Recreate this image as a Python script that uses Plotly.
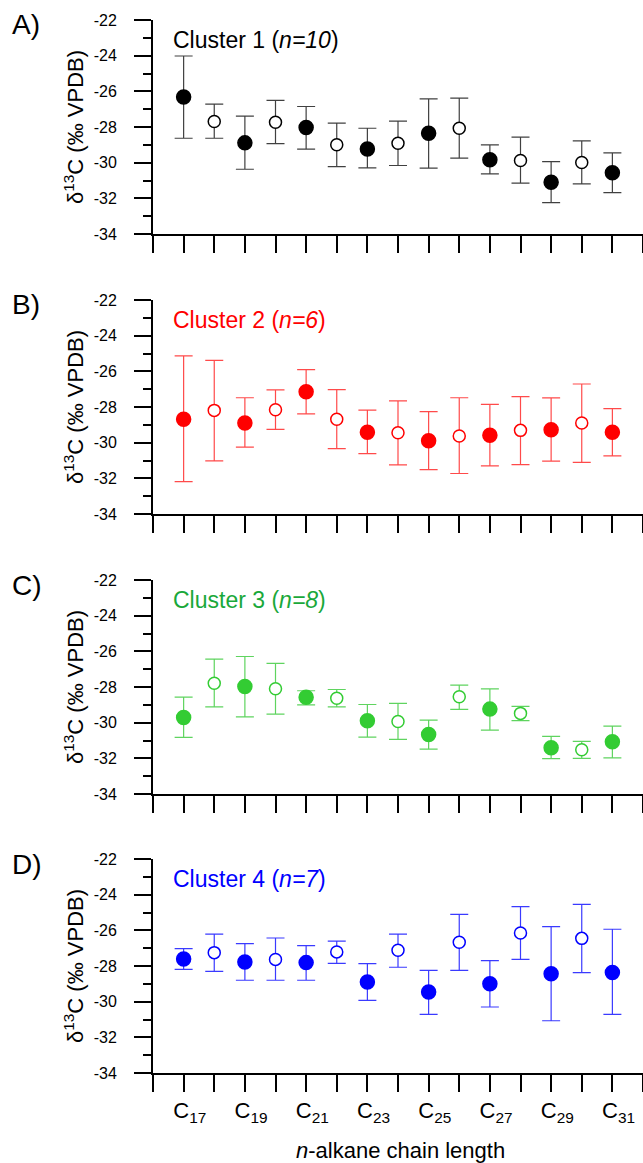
import plotly.graph_objects as go

chain = list(range(17, 32))
tick_vals_x = list(range(16, 33))
tick_text_x = ["\u00a0\u00a0C<sub>%d</sub>" % c if (c % 2 == 1 and 17 <= c <= 31) else " " for c in tick_vals_x]

y_major = [-34, -32, -30, -28, -26, -24, -22]
y_major_text = ["-34", "-32", "-30", "-28", "-26", "-24", "-22"]
y_minor = [-33, -31, -29, -27, -25, -23]

panel_letters = ["A)", "B)", "C)", "D)"]
cluster_names = ["Cluster 1 (<i>n=10</i>)", "Cluster 2 (<i>n=6</i>)",
                 "Cluster 3 (<i>n=8</i>)", "Cluster 4 (<i>n=7</i>)"]

c1_mean = [-26.32, -27.69, -28.89, -27.73, -28.03, -29.00, -29.23, -28.91, -28.35, -28.07, -29.84, -29.88, -31.10, -29.99, -30.57]
c1_upper = [-24.02, -26.72, -27.39, -26.51, -26.85, -27.78, -28.07, -27.67, -26.42, -26.38, -29.00, -28.57, -29.94, -28.78, -29.45]
c1_lower = [-28.63, -28.63, -30.37, -28.93, -29.24, -30.22, -30.29, -30.16, -30.31, -29.75, -30.63, -31.15, -32.24, -31.19, -31.68]

c2_mean = [-28.69, -28.19, -28.90, -28.15, -27.14, -28.69, -29.41, -29.44, -29.89, -29.63, -29.59, -29.31, -29.28, -28.90, -29.41]
c2_upper = [-25.13, -25.39, -27.48, -27.04, -25.90, -27.03, -28.17, -27.66, -28.26, -27.48, -27.85, -27.42, -27.49, -26.71, -28.09]
c2_lower = [-32.18, -31.02, -30.25, -29.26, -28.38, -30.33, -30.61, -31.24, -31.51, -31.73, -31.30, -31.23, -31.04, -31.11, -30.74]

c3_mean = [-29.71, -27.79, -27.97, -28.10, -28.57, -28.63, -29.89, -29.93, -30.66, -28.55, -29.24, -29.48, -31.41, -31.52, -31.07]
c3_upper = [-28.57, -26.44, -26.29, -26.68, -28.21, -28.14, -28.98, -28.92, -29.86, -27.90, -28.10, -29.09, -30.77, -31.05, -30.19]
c3_lower = [-30.83, -29.11, -29.67, -29.52, -29.00, -29.11, -30.81, -30.94, -31.48, -29.26, -30.42, -29.89, -32.02, -32.00, -31.97]

c4_mean = [-27.61, -27.25, -27.78, -27.63, -27.81, -27.21, -28.90, -27.12, -29.46, -26.67, -28.99, -26.15, -28.43, -26.45, -28.36]
c4_upper = [-27.03, -26.21, -26.75, -26.43, -26.86, -26.60, -27.87, -26.21, -28.24, -25.10, -27.70, -24.67, -25.79, -24.54, -25.94]
c4_lower = [-28.19, -28.30, -28.80, -28.80, -28.80, -27.85, -29.93, -28.07, -30.71, -28.24, -30.30, -27.63, -31.07, -28.37, -30.71]

means = [c1_mean, c2_mean, c3_mean, c4_mean]
uppers = [c1_upper, c2_upper, c3_upper, c4_upper]
lowers = [c1_lower, c2_lower, c3_lower, c4_lower]

marker_colors = ["#000000", "#ff0000", "#33cc33", "#0000ff"]
error_colors = ["#404040", "#ff4a4a", "#5fd45f", "#3a3aff"]
title_colors = ["#000000", "#ff0000", "#1aa83a", "#0000ff"]

FONT = "Liberation Sans, Arial, sans-serif"

# pixel geometry
W, H = 643, 1163
M_L, M_R, M_T, M_B = 153, 0, 20, 90
plot_h = H - M_T - M_B
bottom_px = H - M_B
panel_px = [(20, 234), (300, 514), (580, 794), (859, 1073)]


def py(p):
    return (bottom_px - p) / plot_h


def px(p):
    return (p - M_L) / (W - M_L - M_R)


fig = go.Figure()
annotations = []

for i in range(4):
    ax = "" if i == 0 else str(i + 1)
    xa, ya = "x" + ax, "y" + ax
    m = means[i]
    up = [u - v for u, v in zip(uppers[i], m)]
    dn = [v - l for v, l in zip(m, lowers[i])]
    fill = [marker_colors[i] if c % 2 == 1 else "#ffffff" for c in chain]
    sizes = [14 if c % 2 == 1 else 12 for c in chain]
    fig.add_trace(go.Scatter(
        x=chain, y=m, mode="markers", xaxis=xa, yaxis=ya, showlegend=False,
        marker=dict(symbol="circle", size=sizes, color=fill, opacity=1,
                    line=dict(color=marker_colors[i], width=1.5)),
        error_y=dict(type="data", symmetric=False, array=up, arrayminus=dn,
                     color=error_colors[i], thickness=1.2, width=9),
    ))
    top, bot = panel_px[i]
    dom = [py(bot), py(top)]
    fig.layout["xaxis" + ax] = dict(
        domain=[0, 1], range=[16, 32], anchor=ya,
        tickmode="array", tickvals=tick_vals_x, ticktext=tick_text_x,
        showticklabels=(i == 3), ticks="outside", ticklen=17, tickwidth=2,
        tickcolor="black", showline=True, linewidth=2, linecolor="black",
        showgrid=False, zeroline=False,
        tickfont=dict(family=FONT, size=22, color="black"),
        automargin=False,
    )
    fig.layout["yaxis" + ax] = dict(
        domain=dom, range=[-34, -22], anchor=xa,
        tickmode="array", tickvals=y_major, ticktext=y_major_text,
        ticks="outside", ticklen=17, tickwidth=2, tickcolor="black",
        minor=dict(tickmode="array", tickvals=y_minor, ticks="outside",
                   ticklen=8, tickwidth=2, tickcolor="black"),
        showline=True, linewidth=2, linecolor="black",
        showgrid=False, zeroline=False,
        tickfont=dict(family=FONT, size=16, color="black"),
        ticklabelstandoff=14, automargin=False,
    )
    # y axis title
    annotations.append(dict(
        xref="paper", yref="paper", x=px(74), y=py((top + bot) / 2),
        text="δ<sup>13</sup>C (‰ VPDB)", textangle=-90, showarrow=False,
        xanchor="center", yanchor="middle",
        font=dict(family=FONT, size=22, color="black"),
    ))
    # panel letter
    annotations.append(dict(
        xref="paper", yref="paper", x=px(10), y=py(top + 5),
        text=panel_letters[i], showarrow=False, xanchor="left", yanchor="middle",
        font=dict(family=FONT, size=28, color="black"),
    ))
    # cluster title
    annotations.append(dict(
        xref=xa, yref=ya, x=16.58, y=-23.1,
        text=cluster_names[i], showarrow=False, xanchor="left", yanchor="middle",
        font=dict(family=FONT, size=23, color=title_colors[i]),
    ))

annotations.append(dict(
    xref="paper", yref="paper", x=px(400), y=py(1150),
    text="<i>n</i>-alkane chain length", showarrow=False,
    xanchor="center", yanchor="middle",
    font=dict(family=FONT, size=22, color="black"),
))

fig.update_layout(
    width=W, height=H, margin=dict(l=M_L, r=M_R, t=M_T, b=M_B, autoexpand=False),
    plot_bgcolor="white", paper_bgcolor="white",
    annotations=annotations, font=dict(family=FONT),
)

fig.write_html(
    "out.html",
    config={"displayModeBar": False},
    post_script="document.body.style.margin='0';document.body.style.overflow='hidden';",
)
